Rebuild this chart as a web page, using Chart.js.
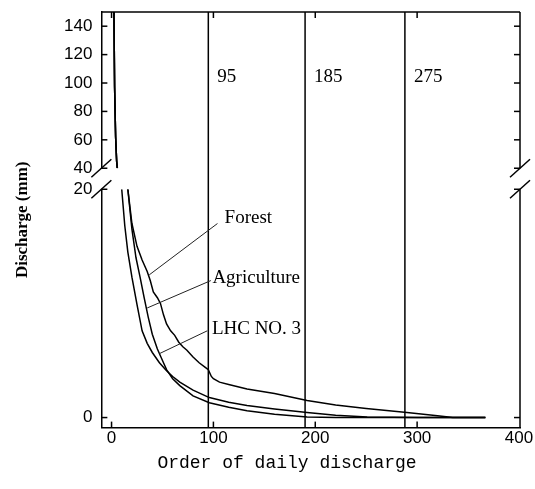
<!DOCTYPE html>
<html>
<head>
<meta charset="utf-8">
<script src="https://cdn.jsdelivr.net/npm/chart.js@4.4.1/dist/chart.umd.min.js"></script>
<style>
html, body { margin: 0; padding: 0; background: #fff; }
#wrap { position: relative; width: 535px; height: 489px; }
</style>
</head>
<body>
<div id="wrap"><canvas id="fdc" width="535" height="489"></canvas></div>
<script>
// ===== DATA =====
const lhcDays = [1, 2, 3, 4, 5, 6, 8, 10, 13, 16, 20, 25, 30, 35, 40, 47, 54, 60, 67, 80, 96, 115, 133, 160, 192, 220, 251, 300, 367];
const lhcQ = [260, 180, 97, 62, 45, 36, 26, 20, 16.8, 14.5, 12.3, 9.9, 7.6, 6.5, 5.7, 4.8, 4.1, 3.6, 3.1, 2.4, 1.75, 1.35, 1.05, 0.75, 0.44, 0.2, 0.05, 0, 0];

const agriDays = [1, 2, 3, 4, 5, 6, 9, 12, 16, 20, 24, 28, 32, 36, 40, 45, 50, 54, 60, 67, 80, 96, 115, 133, 160, 192, 220, 367];
const agriQ = [260, 180, 97, 62, 45, 38, 29, 24, 20, 16.5, 14, 12.3, 10.5, 8.8, 7.3, 6, 5, 4.2, 3.4, 2.8, 1.9, 1.3, 0.9, 0.6, 0.3, 0.05, 0, 0];

const forestDays = [1, 2, 3, 4, 5, 6, 9, 12, 16, 20, 25, 30, 35, 38, 41, 45, 48, 51, 54, 58, 62, 66, 70, 74, 80, 86, 92, 95, 98, 100, 106, 115, 133, 160, 192, 220, 250, 290, 320, 335, 367];
const forestQ = [260, 180, 97, 62, 45, 38, 29, 24, 20, 17, 15, 13.8, 12.8, 12, 11, 10.5, 10, 9, 8.2, 7.6, 7.2, 6.6, 6.2, 5.9, 5.3, 4.8, 4.4, 4.2, 3.6, 3.4, 3.1, 2.9, 2.5, 2.1, 1.5, 1.1, 0.8, 0.44, 0.15, 0, 0];

const xTicks = [0, 100, 200, 300, 400];
const upperTicks = [40, 60, 80, 100, 120, 140];
const lowerTicks = [0, 20];

const markerDays = [95, 190, 288];
const markerLabels = ["95", "185", "275"];

const curveNames = ["Forest", "Agriculture", "LHC NO. 3"];

// callout text anchor + leader end, in (day, mm) of the lower panel
const callouts = [
    { text: curveNames[0], at: [111, 17.5], from: [104, 17.0], to: [37, 12.5] },
    { text: curveNames[1], at: [99, 12.2], from: [97.5, 12.0], to: [35, 9.6] },
    { text: curveNames[2], at: [98.5, 7.8], from: [94, 7.6], to: [47, 5.6] },
];

function toPoints(days, q) {
    return days.map((d, i) => ({ x: d, y: q[i] }));
}

function curve(name, days, q, axis) {
    return {
        label: name,
        data: toPoints(days, q),
        yAxisID: axis,
        borderColor: "#000",
        borderWidth: 1.5,
        pointRadius: 0,
        tension: 0,
        fill: false,
    };
}

function fixedTicks(values) {
    return (scale) => {
        scale.ticks = values.map((v) => ({ value: v }));
    };
}

// ===== BROKEN AXIS PLUGIN =====
function line(ctx, x1, y1, x2, y2) {
    ctx.beginPath();
    ctx.moveTo(x1, y1);
    ctx.lineTo(x2, y2);
    ctx.stroke();
}

const brokenAxis = {
    id: "brokenAxis",
    beforeDatasetDraw(chart, args) {
        const s = args.meta.yScale;
        const a = chart.chartArea;
        chart.ctx.save();
        chart.ctx.beginPath();
        chart.ctx.rect(a.left, s.top, a.right - a.left, s.bottom - s.top);
        chart.ctx.clip();
    },
    afterDatasetDraw(chart) {
        chart.ctx.restore();
    },
    afterDraw(chart) {
        const { ctx, chartArea: a, scales } = chart;
        const x = scales.x, top = scales.yTop, low = scales.y;
        ctx.save();
        ctx.strokeStyle = "#000";
        ctx.lineWidth = 1.5;

        // frame pieces the axes don't draw
        line(ctx, a.left, a.top, a.right, a.top);
        line(ctx, a.right, top.top, a.right, top.bottom);
        line(ctx, a.right, low.top, a.right, low.bottom);

        // vertical markers
        markerDays.forEach((d) => {
            const px = x.getPixelForValue(d);
            line(ctx, px, a.top, px, a.bottom);
        });

        // inward ticks
        const tl = 6;
        [top, low].forEach((s) => {
            s.ticks.forEach((t) => {
                const py = s.getPixelForValue(t.value);
                line(ctx, a.left, py, a.left + tl, py);
                line(ctx, a.right - tl, py, a.right, py);
            });
        });
        xTicks.forEach((v) => {
            const px = x.getPixelForValue(v);
            if (px > a.right - 2) return;
            line(ctx, px, a.bottom, px, a.bottom - tl);
            line(ctx, px, a.top, px, a.top + tl);
        });

        // break slashes
        [a.left, a.right].forEach((cx) => {
            [top.bottom, low.top].forEach((cy) => {
                line(ctx, cx - 10, cy + 9, cx + 10, cy - 9);
            });
        });

        // marker labels
        ctx.fillStyle = "#000";
        ctx.font = "19px 'Liberation Serif'";
        ctx.textAlign = "left";
        ctx.textBaseline = "middle";
        markerLabels.forEach((t, i) => {
            const px = x.getPixelForValue(markerDays[i]) + 9;
            ctx.fillText(t, px, top.getPixelForValue(104));
        });

        // callouts
        ctx.lineWidth = 1;
        ctx.strokeStyle = "#222";
        callouts.forEach((c) => {
            line(ctx,
                x.getPixelForValue(c.from[0]), low.getPixelForValue(c.from[1]),
                x.getPixelForValue(c.to[0]), low.getPixelForValue(c.to[1]));
            ctx.fillText(c.text, x.getPixelForValue(c.at[0]), low.getPixelForValue(c.at[1]));
        });

        // axis titles
        ctx.font = "18px 'Liberation Mono'";
        ctx.textAlign = "center";
        ctx.fillText("Order of daily discharge", 287, 463);

        ctx.save();
        ctx.translate(23, (a.top + a.bottom) / 2);
        ctx.rotate(-Math.PI / 2);
        ctx.font = "bold 17px 'Liberation Serif'";
        ctx.fillText("Discharge (mm)", 0, 0);
        ctx.restore();

        ctx.restore();
    },
};

// ===== CHART =====
const tickFont = { family: "'Liberation Sans', Arial, sans-serif", size: 17 };
const axisBorder = { display: true, color: "#000", width: 1.5 };

// ticks.padding stays 0 so it doesn't push the chart area in at the ends
function yAxis(min, max, weight, values) {
    return {
        type: "linear",
        position: "left",
        stack: "q",
        stackWeight: weight,
        min: min,
        max: max,
        afterBuildTicks: fixedTicks(values),
        grid: { display: false, drawTicks: true, tickLength: 9 },
        border: axisBorder,
        ticks: { color: "#000", font: tickFont, padding: 0, autoSkip: false },
    };
}

new Chart(document.getElementById("fdc"), {
    type: "line",
    data: {
        datasets: [
            curve(curveNames[0], forestDays, forestQ, "y"),
            curve(curveNames[1], agriDays, agriQ, "y"),
            curve(curveNames[2], lhcDays, lhcQ, "y"),
            curve(curveNames[0], forestDays, forestQ, "yTop"),
            curve(curveNames[1], agriDays, agriQ, "yTop"),
            curve(curveNames[2], lhcDays, lhcQ, "yTop"),
        ],
    },
    options: {
        responsive: false,
        animation: false,
        devicePixelRatio: 1,
        layout: { padding: { left: 64, right: 15, top: 12, bottom: 40 } },
        plugins: { legend: { display: false }, tooltip: { enabled: false } },
        scales: {
            x: {
                type: "linear",
                min: -10,
                max: 401,
                afterBuildTicks: fixedTicks(xTicks),
                grid: { display: false, drawTicks: true, tickLength: 1 },
                border: axisBorder,
                ticks: { color: "#000", font: tickFont, padding: 0, autoSkip: false },
            },
            y: yAxis(-0.88, 20, 238, lowerTicks),
            yGap: {
                type: "linear",
                position: "left",
                stack: "q",
                stackWeight: 21,
                min: 0,
                max: 1,
                grid: { display: false, drawTicks: false },
                border: { display: false },
                ticks: { display: false },
            },
            yTop: yAxis(40, 150, 156, upperTicks),
        },
    },
    plugins: [brokenAxis],
});
</script>
</body>
</html>
